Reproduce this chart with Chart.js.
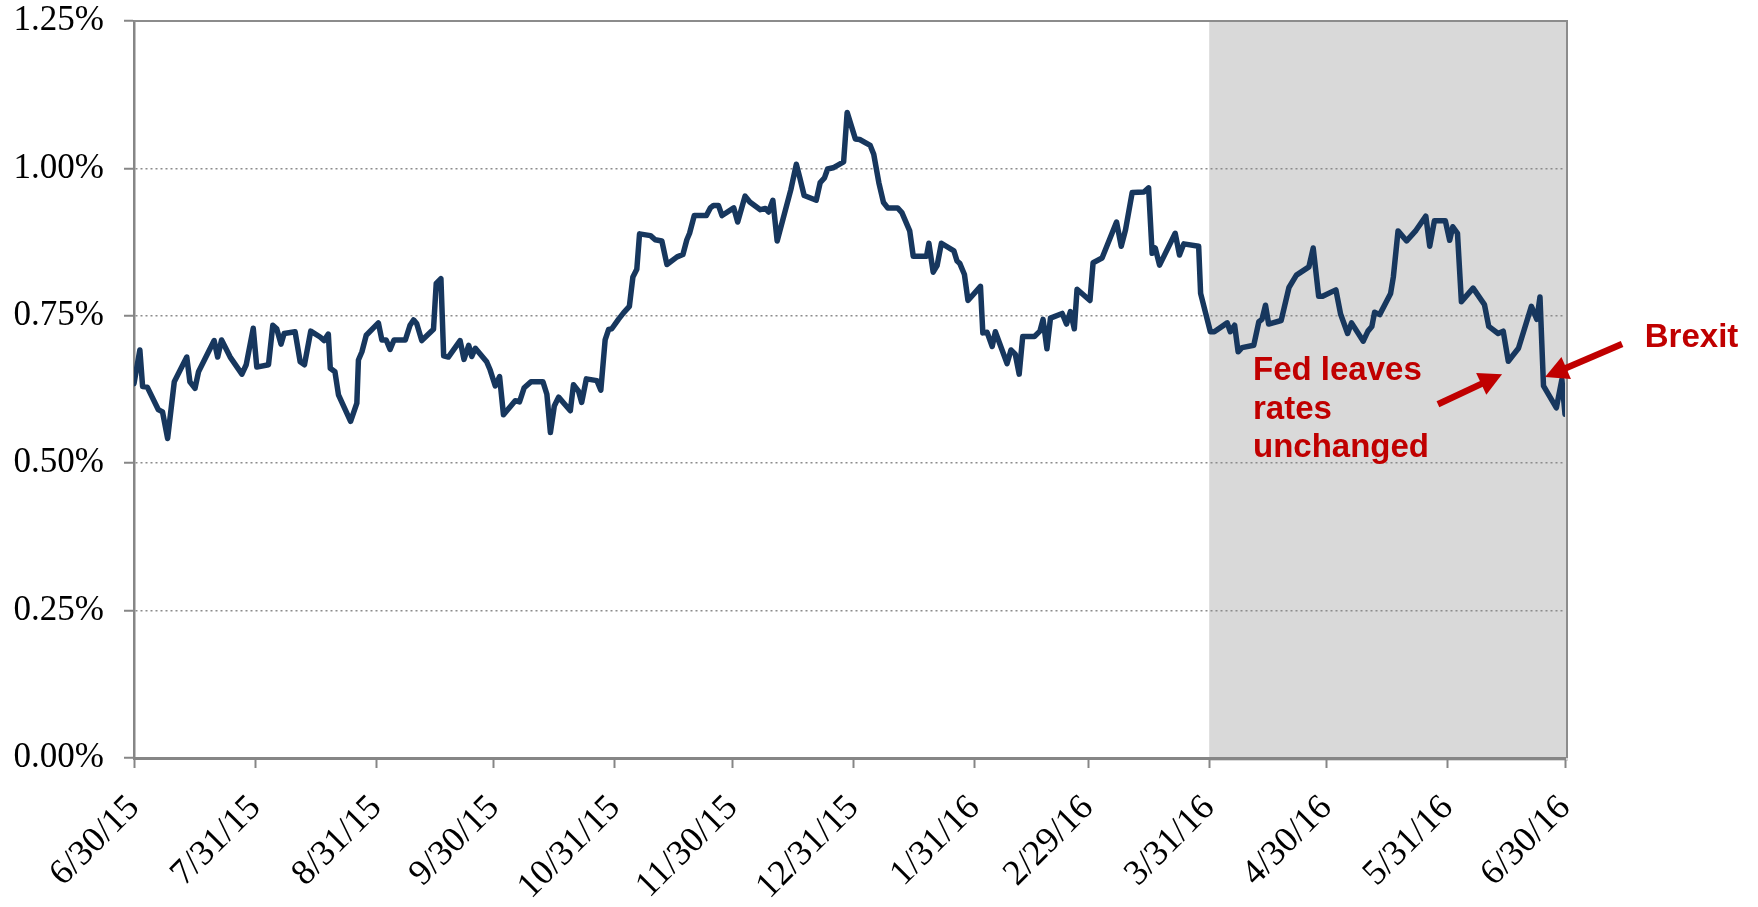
<!DOCTYPE html>
<html>
<head>
<meta charset="utf-8">
<script src="https://cdn.jsdelivr.net/npm/chart.js@4.4.1/dist/chart.umd.min.js"></script>
<style>
  html, body { margin: 0; padding: 0; background: #ffffff; }
  #wrap { width: 1758px; height: 907px; position: relative; overflow: hidden; }
  canvas { display: block; }
</style>
</head>
<body>
<div id="wrap"><canvas id="chart" width="1758" height="907" style="width:1758px;height:907px"></canvas></div>
<script>
// ---- Data (day offsets counted from 6/30/15) ----
const tickLabels = ['6/30/15','7/31/15','8/31/15','9/30/15','10/31/15','11/30/15','12/31/15','1/31/16','2/29/16','3/31/16','4/30/16','5/31/16','6/30/16'];
const tickDays   = [0, 31, 62, 92, 123, 153, 184, 215, 244, 275, 305, 336, 366];
const yTickValues = [0, 0.25, 0.5, 0.75, 1.0, 1.25];

const dayOffsets = [
  0,1.5,2.2,3.4,6.2,7.3,8.6,10.3,13.5,14.3,15.6,16.5,20.5,21.4,22.4,24.6,27.6,28.7,30.5,31.4,
  34.4,35.5,36.5,37.6,38.4,41.2,42.5,43.6,45.2,47.6,48.6,49.7,50.2,51.4,52.3,55.4,57.0,57.4,58.3,59.4,
  62.5,63.4,64.5,65.5,66.5,69.4,70.6,71.5,72.3,73.6,76.6,77.3,78.5,79.2,80.4,83.4,84.4,85.6,86.4,87.3,
  90.2,91.1,92.4,93.5,94.5,97.5,98.6,99.8,101.5,104.6,105.6,106.5,107.5,108.6,111.6,112.4,113.7,114.5,115.7,118.4,
  119.4,120.5,121.4,122.2,123.9,125.2,126.7,127.6,128.6,129.3,132.1,133.3,135.0,136.3,138.9,140.4,141.4,142.1,143.3,146.4,
  147.4,148.2,149.5,150.4,153.4,154.4,156.3,157.5,160.2,161.5,162.3,163.4,164.5,168.0,169.4,170.3,171.4,174.5,175.5,176.6,
  177.4,178.8,181.5,182.4,184.5,185.6,188.3,189.2,190.5,191.7,192.8,195.3,196.4,198.4,199.3,202.7,203.3,204.4,205.4,206.5,
  209.7,210.5,211.2,212.4,213.3,216.5,217.1,218.2,219.5,220.3,223.3,224.3,225.4,226.4,227.3,230.3,231.7,232.5,233.5,234.4,
  237.4,238.5,239.5,240.5,241.2,244.5,245.3,247.6,251.3,252.5,253.6,255.3,258.3,259.5,260.4,261.2,262.3,266.3,267.4,268.5,
  272.3,272.8,275.3,276.3,279.6,280.4,281.5,282.4,283.4,286.4,287.7,288.5,289.4,290.2,293.4,295.4,297.3,300.5,301.6,303.0,
  304.0,307.4,308.6,310.4,311.4,314.4,315.6,316.6,317.3,318.6,321.4,322.1,323.3,325.5,327.9,330.4,331.4,332.6,335.4,336.5,
  337.3,338.5,339.5,342.5,345.4,346.5,348.9,350.2,351.5,354.1,357.4,358.8,359.6,360.5,363.8,365.2,366.0
];
const yields = [
  0.635,0.692,0.630,0.629,0.591,0.587,0.542,0.638,0.680,0.638,0.627,0.655,0.708,0.680,0.709,0.680,0.651,0.667,0.729,0.663,
  0.667,0.734,0.728,0.702,0.720,0.723,0.672,0.667,0.724,0.714,0.708,0.719,0.661,0.655,0.616,0.571,0.602,0.675,0.689,0.717,
  0.738,0.709,0.709,0.693,0.709,0.709,0.734,0.743,0.737,0.708,0.727,0.805,0.813,0.682,0.680,0.708,0.676,0.700,0.681,0.695,
  0.672,0.658,0.631,0.647,0.582,0.606,0.604,0.628,0.638,0.638,0.617,0.552,0.597,0.612,0.589,0.633,0.622,0.603,0.643,0.640,
  0.624,0.709,0.727,0.728,0.744,0.755,0.766,0.816,0.829,0.889,0.886,0.879,0.877,0.837,0.850,0.854,0.879,0.890,0.920,0.920,
  0.933,0.937,0.937,0.920,0.933,0.909,0.953,0.943,0.930,0.932,0.926,0.946,0.877,0.964,1.007,0.984,0.954,0.946,0.976,0.984,
  0.999,1.001,1.011,1.095,1.050,1.049,1.039,1.024,0.976,0.942,0.933,0.933,0.925,0.894,0.851,0.851,0.873,0.824,0.835,0.873,
  0.860,0.843,0.839,0.820,0.776,0.800,0.721,0.722,0.698,0.723,0.669,0.692,0.685,0.651,0.715,0.715,0.724,0.744,0.694,0.746,
  0.754,0.736,0.757,0.728,0.795,0.776,0.840,0.848,0.909,0.868,0.896,0.959,0.960,0.967,0.856,0.865,0.836,0.890,0.853,0.872,
  0.868,0.788,0.723,0.723,0.738,0.723,0.734,0.689,0.696,0.700,0.740,0.744,0.768,0.736,0.742,0.798,0.819,0.833,0.865,0.783,
  0.783,0.794,0.753,0.720,0.738,0.707,0.724,0.732,0.756,0.752,0.788,0.816,0.894,0.877,0.895,0.919,0.868,0.911,0.911,0.878,
  0.901,0.890,0.774,0.797,0.769,0.732,0.720,0.724,0.673,0.695,0.766,0.744,0.782,0.631,0.594,0.642,0.583
];

const shadeFromDay = 275; // 3/31/16

// Annotations, positioned in data units (day offset, yield %)
const noteFedLines = ['Fed leaves', 'rates', 'unchanged'];
const noteFedAt = { day: 286.2, value: 0.641 };
const noteBrexit = 'Brexit';
const noteBrexitAt = { day: 386.4, value: 0.697 };
const arrowFed = { from: { day: 333.5, value: 0.600 }, to: { day: 349.9, value: 0.651 } };
const arrowBrexit = { from: { day: 380.6, value: 0.702 }, to: { day: 360.9, value: 0.646 } };

// ---- Chart ----
const points = dayOffsets.map((d, i) => ({ x: d, y: yields[i] }));
const GRAY = '#868686';
const SERIF = '"Liberation Serif", "Times New Roman", serif';
const RED = '#C00000';

const shadePlugin = {
  id: 'shade',
  beforeDraw(chart) {
    const { ctx, chartArea: a, scales: { x } } = chart;
    ctx.save();
    ctx.fillStyle = '#ffffff';
    ctx.fillRect(0, 0, chart.width, chart.height);
    const x0 = x.getPixelForValue(shadeFromDay);
    ctx.fillStyle = '#D9D9D9';
    ctx.fillRect(x0, a.top, a.right + 3 - x0, a.bottom + 3 - a.top);
    ctx.restore();
  },
  beforeDatasetsDraw(chart) {
    const { ctx, chartArea: a } = chart;
    ctx.save();
    ctx.strokeStyle = '#8C8C8C';
    ctx.lineWidth = 2;
    ctx.beginPath();
    ctx.moveTo(a.left, a.top);
    ctx.lineTo(a.right + 3, a.top);
    ctx.moveTo(a.right + 2, a.top);
    ctx.lineTo(a.right + 2, a.bottom);
    ctx.stroke();
    ctx.restore();
  }
};

function drawArrow(ctx, x1, y1, x2, y2) {
  const ang = Math.atan2(y2 - y1, x2 - x1);
  const headLen = 23, headHalf = 12, shaft = 6.5;
  const bx = x2 - headLen * Math.cos(ang), by = y2 - headLen * Math.sin(ang);
  ctx.strokeStyle = RED; ctx.fillStyle = RED; ctx.lineWidth = shaft; ctx.lineCap = 'butt';
  ctx.beginPath(); ctx.moveTo(x1, y1); ctx.lineTo(bx + 2 * Math.cos(ang), by + 2 * Math.sin(ang)); ctx.stroke();
  ctx.beginPath();
  ctx.moveTo(x2, y2);
  ctx.lineTo(bx + headHalf * Math.sin(ang), by - headHalf * Math.cos(ang));
  ctx.lineTo(bx - headHalf * Math.sin(ang), by + headHalf * Math.cos(ang));
  ctx.closePath(); ctx.fill();
}

const notesPlugin = {
  id: 'notes',
  afterDatasetsDraw(chart) {
    const { ctx, scales: { x, y } } = chart;
    ctx.save();
    ctx.font = 'bold 33px "Liberation Sans", Arial, sans-serif';
    ctx.fillStyle = RED;
    ctx.textAlign = 'left';
    ctx.textBaseline = 'alphabetic';
    const fx = x.getPixelForValue(noteFedAt.day), fy = y.getPixelForValue(noteFedAt.value);
    noteFedLines.forEach((t, i) => ctx.fillText(t, fx, fy + i * 38.5));
    ctx.fillText(noteBrexit, x.getPixelForValue(noteBrexitAt.day), y.getPixelForValue(noteBrexitAt.value));
    [arrowFed, arrowBrexit].forEach(a => drawArrow(ctx,
      x.getPixelForValue(a.from.day), y.getPixelForValue(a.from.value),
      x.getPixelForValue(a.to.day), y.getPixelForValue(a.to.value)));
    ctx.restore();
  }
};

new Chart(document.getElementById('chart'), {
  type: 'line',
  data: {
    datasets: [{
      label: 'Yield',
      data: points,
      borderColor: '#17375E',
      borderWidth: 5.5,
      pointRadius: 0,
      tension: 0,
      borderJoinStyle: 'round',
      borderCapStyle: 'round',
      fill: false
    }]
  },
  options: {
    responsive: false,
    devicePixelRatio: 1,
    animation: false,
    events: [],
    layout: { padding: { top: 21, right: 193, left: 0, bottom: 0 } },
    plugins: { legend: { display: false }, tooltip: { enabled: false }, title: { display: false } },
    scales: {
      x: {
        type: 'linear',
        min: 0,
        max: 366,
        afterBuildTicks(scale) { scale.ticks = tickDays.map(v => ({ value: v })); },
        afterFit(scale) { scale.height = 149; scale.paddingLeft = 0; scale.paddingRight = 0; },
        ticks: {
          autoSkip: false,
          minRotation: 45,
          maxRotation: 45,
          padding: 19,
          color: '#000000',
          font: { family: SERIF, size: 36 },
          callback(value, index) { return tickLabels[index]; }
        },
        grid: { display: true, drawOnChartArea: false, drawTicks: true, tickLength: 10, tickColor: GRAY, tickWidth: 2 },
        border: { display: true, color: GRAY, width: 3 }
      },
      y: {
        min: 0,
        max: 1.25,
        afterBuildTicks(scale) { scale.ticks = yTickValues.map(v => ({ value: v })); },
        afterFit(scale) { scale.width = 134; scale.paddingTop = 0; scale.paddingBottom = 0; },
        ticks: {
          padding: 20,
          color: '#000000',
          font: { family: SERIF, size: 35 },
          callback(value) { return value.toFixed(2) + '%'; }
        },
        grid: { color: '#8C8C8C', lineWidth: 1.5, drawTicks: true, tickLength: 10, tickColor: GRAY, tickWidth: 2, tickBorderDash: [] },
        border: { display: true, color: GRAY, width: 2.5, dash: [2, 3] }
      }
    }
  },
  plugins: [shadePlugin, notesPlugin]
});
</script>
</body>
</html>
